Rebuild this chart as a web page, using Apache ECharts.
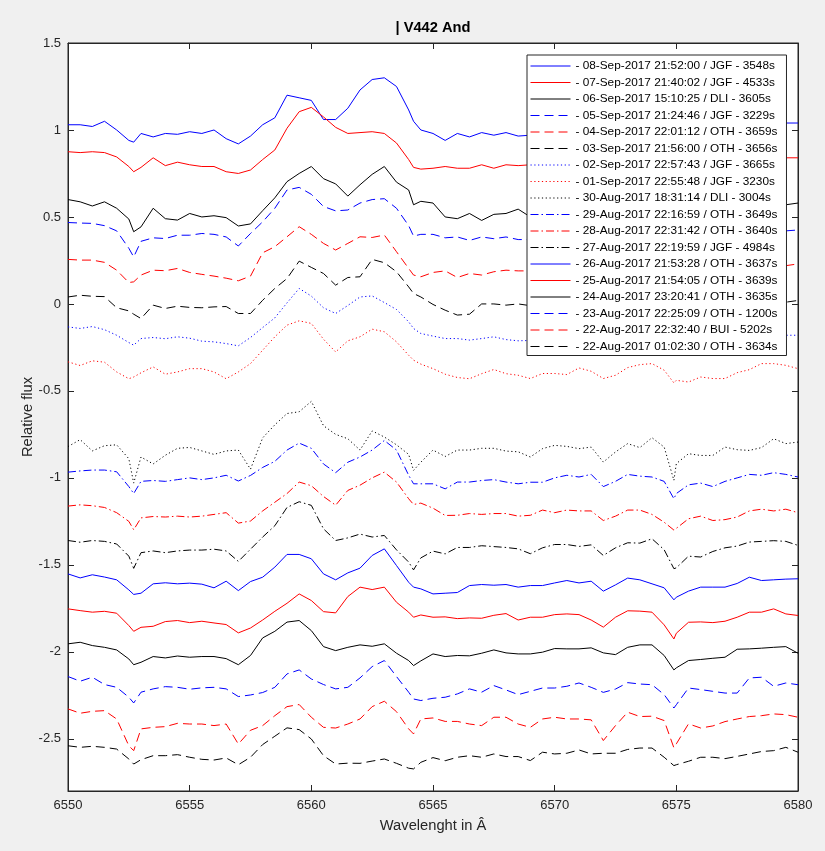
<!DOCTYPE html>
<html>
<head>
<meta charset="utf-8">
<title>V442 And</title>
<script src="https://cdn.jsdelivr.net/npm/echarts@6/dist/echarts.min.js"></script>
<style>
  html, body { margin: 0; padding: 0; background: #f0f0f0; }
  #chart { width: 825px; height: 851px; }
</style>
</head>
<body>
<div id="chart"></div>
<script>
// wavelength grid (Angstrom), shared by every spectrum
const wavelength = [6550,6550.5,6551,6551.5,6552,6552.5,6552.7,6553,6553.5,6554,6554.5,6555,6555.5,6556,6556.5,6557,6557.5,6558,6558.5,6559,
  6559.5,6560,6560.5,6561,6561.5,6562,6562.5,6563,6563.5,6564,6564.2,6564.5,6565,6565.5,6566,6566.5,6567,6567.5,6568,6568.5,
  6569,6569.5,6570,6570.5,6571,6571.5,6572,6572.5,6573,6573.5,6574,6574.5,6574.9,6575,6575.5,6576,6576.5,6577,6577.5,6578,6578.5,6579,6579.5,6580];

// relative flux (offset) per observation
const sep08 = [1.03,1.03,1.02,1.05,1.0,0.94,0.93,0.98,0.96,0.98,0.975,0.99,0.98,1.0,0.95,0.92,0.965,1.03,1.07,1.2,
  1.185,1.17,1.06,1.06,1.125,1.23,1.29,1.3,1.25,1.115,1.05,1.0,0.98,0.94,0.98,0.96,0.985,0.97,0.985,0.965,
  0.97,0.98,1.0,0.99,1.0,1.01,0.99,1.0,1.01,1.0,0.99,0.98,0.97,0.98,1.0,1.01,1.01,1.0,1.02,1.03,1.02,1.03,1.04,1.04];
const sep07 = [0.875,0.87,0.875,0.87,0.845,0.79,0.76,0.785,0.84,0.795,0.815,0.8,0.79,0.79,0.76,0.75,0.77,0.83,0.885,1.01,
  1.105,1.13,1.075,1.015,0.98,0.985,0.99,0.98,0.925,0.83,0.785,0.775,0.78,0.79,0.78,0.78,0.8,0.78,0.8,0.795,
  0.8,0.79,0.8,0.81,0.8,0.79,0.78,0.8,0.81,0.81,0.8,0.79,0.77,0.78,0.8,0.81,0.8,0.81,0.82,0.83,0.82,0.83,0.84,0.84];
const sep06 = [0.6,0.587,0.563,0.587,0.55,0.488,0.415,0.443,0.55,0.49,0.482,0.52,0.5,0.507,0.496,0.448,0.46,0.536,0.61,0.703,
  0.75,0.79,0.72,0.69,0.62,0.685,0.745,0.79,0.7,0.655,0.57,0.59,0.58,0.5,0.49,0.52,0.48,0.515,0.52,0.545,
  0.5,0.52,0.51,0.5,0.52,0.51,0.49,0.5,0.53,0.52,0.51,0.49,0.46,0.47,0.5,0.52,0.53,0.52,0.54,0.55,0.56,0.55,0.57,0.58];
const sep05 = [0.468,0.465,0.463,0.45,0.42,0.32,0.27,0.36,0.38,0.376,0.395,0.395,0.405,0.4,0.385,0.333,0.405,0.472,0.55,0.655,
  0.67,0.63,0.56,0.535,0.54,0.58,0.6,0.605,0.55,0.45,0.39,0.4,0.4,0.38,0.385,0.365,0.385,0.375,0.385,0.37,
  0.37,0.38,0.375,0.39,0.38,0.37,0.35,0.37,0.39,0.385,0.38,0.37,0.33,0.34,0.37,0.38,0.39,0.39,0.4,0.4,0.41,0.41,0.42,0.425];
const sep04 = [0.256,0.252,0.252,0.239,0.194,0.123,0.127,0.166,0.194,0.191,0.204,0.181,0.17,0.16,0.148,0.133,0.16,0.294,0.329,0.386,
  0.444,0.4,0.348,0.31,0.348,0.386,0.382,0.396,0.3,0.204,0.166,0.156,0.181,0.19,0.152,0.175,0.166,0.185,0.194,0.19,
  0.19,0.2,0.19,0.2,0.2,0.19,0.16,0.18,0.2,0.2,0.19,0.18,0.13,0.14,0.18,0.19,0.2,0.2,0.21,0.2,0.21,0.22,0.22,0.23];
const sep03 = [0.04,0.05,0.044,0.042,-0.022,-0.04,-0.059,-0.084,-0.007,-0.026,-0.013,-0.02,-0.022,-0.017,-0.015,-0.055,-0.055,0.021,0.089,0.146,
  0.246,0.21,0.175,0.108,0.152,0.156,0.256,0.237,0.185,0.098,0.06,0.04,-0.003,-0.036,-0.064,-0.059,0.0,0.0,-0.007,0.0,
  -0.01,-0.02,0.0,-0.01,0.0,-0.01,-0.05,-0.03,0.0,0.01,0.0,-0.02,-0.07,-0.06,-0.03,-0.01,0.0,-0.01,0.01,0.0,0.01,0.02,0.01,0.02];
const sep02 = [-0.132,-0.141,-0.13,-0.148,-0.18,-0.222,-0.237,-0.199,-0.193,-0.2,-0.189,-0.197,-0.214,-0.218,-0.228,-0.241,-0.193,-0.136,-0.08,0.006,
  0.089,0.045,-0.022,-0.055,-0.009,0.04,0.046,0.008,-0.032,-0.103,-0.141,-0.17,-0.185,-0.199,-0.199,-0.208,-0.199,-0.189,-0.205,-0.212,
  -0.21,-0.2,-0.2,-0.21,-0.2,-0.21,-0.23,-0.22,-0.2,-0.2,-0.2,-0.21,-0.24,-0.23,-0.21,-0.2,-0.2,-0.2,-0.19,-0.19,-0.18,-0.19,-0.18,-0.18];
const sep01 = [-0.333,-0.354,-0.327,-0.335,-0.391,-0.43,-0.42,-0.396,-0.362,-0.404,-0.391,-0.372,-0.372,-0.391,-0.43,-0.391,-0.343,-0.266,-0.189,-0.122,
  -0.097,-0.112,-0.203,-0.276,-0.212,-0.189,-0.145,-0.16,-0.218,-0.295,-0.323,-0.346,-0.372,-0.404,-0.423,-0.43,-0.401,-0.377,-0.401,-0.41,
  -0.429,-0.4,-0.4,-0.406,-0.368,-0.387,-0.429,-0.41,-0.366,-0.349,-0.343,-0.381,-0.454,-0.439,-0.449,-0.42,-0.429,-0.429,-0.395,-0.378,-0.343,-0.343,-0.353,-0.372];
const aug30 = [-0.82,-0.78,-0.845,-0.815,-0.81,-0.89,-1.03,-0.88,-0.92,-0.87,-0.83,-0.825,-0.845,-0.865,-0.845,-0.84,-0.95,-0.77,-0.695,-0.63,
  -0.62,-0.56,-0.7,-0.75,-0.775,-0.84,-0.73,-0.765,-0.81,-0.865,-0.957,-0.91,-0.84,-0.877,-0.84,-0.84,-0.83,-0.83,-0.846,-0.85,
  -0.88,-0.832,-0.813,-0.819,-0.832,-0.823,-0.909,-0.851,-0.803,-0.826,-0.769,-0.823,-1.014,-0.918,-0.861,-0.871,-0.871,-0.823,-0.838,-0.842,-0.826,-0.775,-0.803,-0.794];
const aug29 = [-0.967,-0.96,-0.955,-0.955,-0.965,-1.05,-1.09,-1.02,-1.015,-1.02,-1.01,-1.0,-1.01,-1.0,-0.985,-1.018,-0.986,-0.94,-0.905,-0.84,
  -0.8,-0.83,-0.92,-0.97,-0.91,-0.88,-0.84,-0.785,-0.84,-0.985,-1.034,-1.034,-1.034,-1.063,-1.024,-1.024,-1.015,-1.01,-1.024,-1.034,
  -1.025,-1.025,-1.0,-0.985,-0.995,-0.98,-1.05,-1.02,-0.98,-0.99,-0.995,-1.02,-1.12,-1.09,-1.04,-1.03,-1.05,-1.02,-1.0,-0.98,-0.985,-0.97,-0.98,-0.995];
const aug28 = [-1.162,-1.155,-1.16,-1.17,-1.2,-1.25,-1.298,-1.23,-1.222,-1.225,-1.22,-1.225,-1.22,-1.21,-1.2,-1.26,-1.248,-1.19,-1.14,-1.09,
  -1.024,-1.045,-1.107,-1.157,-1.072,-1.042,-1.0,-0.967,-1.024,-1.12,-1.153,-1.145,-1.174,-1.216,-1.215,-1.205,-1.21,-1.205,-1.205,-1.22,
  -1.215,-1.185,-1.2,-1.185,-1.19,-1.19,-1.245,-1.22,-1.185,-1.185,-1.21,-1.255,-1.3,-1.29,-1.235,-1.22,-1.245,-1.24,-1.225,-1.19,-1.18,-1.19,-1.18,-1.2];
const aug27 = [-1.36,-1.37,-1.36,-1.365,-1.38,-1.45,-1.52,-1.43,-1.42,-1.43,-1.42,-1.415,-1.415,-1.41,-1.42,-1.48,-1.41,-1.34,-1.275,-1.17,
  -1.137,-1.158,-1.293,-1.36,-1.345,-1.323,-1.34,-1.331,-1.414,-1.484,-1.529,-1.46,-1.421,-1.437,-1.4,-1.4,-1.39,-1.395,-1.4,-1.408,
  -1.436,-1.402,-1.383,-1.383,-1.394,-1.385,-1.446,-1.402,-1.373,-1.375,-1.35,-1.413,-1.522,-1.517,-1.45,-1.455,-1.423,-1.402,-1.392,-1.369,-1.365,-1.361,-1.365,-1.388];
const aug26 = [-1.552,-1.575,-1.557,-1.57,-1.586,-1.644,-1.67,-1.663,-1.609,-1.603,-1.609,-1.605,-1.611,-1.632,-1.594,-1.648,-1.596,-1.571,-1.513,-1.44,
  -1.44,-1.465,-1.552,-1.586,-1.546,-1.519,-1.446,-1.408,-1.504,-1.6,-1.628,-1.638,-1.667,-1.663,-1.659,-1.619,-1.613,-1.617,-1.613,-1.628,
  -1.619,-1.619,-1.604,-1.59,-1.604,-1.594,-1.651,-1.615,-1.576,-1.586,-1.609,-1.632,-1.701,-1.686,-1.651,-1.628,-1.628,-1.628,-1.607,-1.571,-1.59,-1.586,-1.582,-1.58];
const aug25 = [-1.753,-1.763,-1.772,-1.767,-1.778,-1.849,-1.882,-1.859,-1.853,-1.826,-1.82,-1.832,-1.824,-1.834,-1.843,-1.891,-1.863,-1.817,-1.767,-1.721,
  -1.667,-1.705,-1.769,-1.776,-1.682,-1.628,-1.642,-1.628,-1.715,-1.772,-1.801,-1.788,-1.801,-1.799,-1.809,-1.805,-1.807,-1.79,-1.78,-1.817,
  -1.801,-1.801,-1.786,-1.782,-1.786,-1.817,-1.858,-1.801,-1.764,-1.766,-1.772,-1.845,-1.926,-1.893,-1.83,-1.828,-1.832,-1.824,-1.801,-1.772,-1.772,-1.753,-1.782,-1.791];
const aug24 = [-1.954,-1.945,-1.964,-1.974,-1.989,-2.041,-2.074,-2.06,-2.027,-2.035,-2.024,-2.031,-2.027,-2.027,-2.039,-2.074,-2.021,-1.92,-1.882,-1.829,
  -1.82,-1.878,-1.97,-1.993,-1.974,-1.96,-1.968,-1.954,-2.008,-2.05,-2.079,-2.052,-2.012,-2.027,-2.021,-2.023,-2.008,-1.989,-2.006,-2.012,
  -2.012,-2.002,-1.981,-1.983,-1.983,-1.977,-2.006,-2.016,-1.974,-1.96,-1.96,-2.021,-2.104,-2.092,-2.05,-2.044,-2.037,-2.031,-1.985,-1.983,-1.979,-1.974,-1.97,-2.008];
const aug23 = [-2.142,-2.169,-2.146,-2.188,-2.204,-2.261,-2.294,-2.232,-2.213,-2.2,-2.204,-2.215,-2.207,-2.204,-2.213,-2.257,-2.248,-2.234,-2.204,-2.127,
  -2.104,-2.156,-2.188,-2.213,-2.204,-2.15,-2.085,-2.05,-2.142,-2.232,-2.271,-2.28,-2.267,-2.261,-2.242,-2.213,-2.232,-2.194,-2.219,-2.246,
  -2.227,-2.208,-2.208,-2.198,-2.179,-2.204,-2.233,-2.214,-2.177,-2.185,-2.189,-2.246,-2.323,-2.304,-2.208,-2.217,-2.227,-2.237,-2.237,-2.15,-2.146,-2.198,-2.179,-2.189];
const aug22bui = [-2.328,-2.353,-2.342,-2.338,-2.386,-2.54,-2.568,-2.443,-2.434,-2.43,-2.411,-2.415,-2.415,-2.424,-2.415,-2.53,-2.451,-2.424,-2.367,-2.315,
  -2.303,-2.376,-2.434,-2.438,-2.415,-2.386,-2.315,-2.284,-2.344,-2.443,-2.472,-2.386,-2.38,-2.4,-2.4,-2.415,-2.424,-2.376,-2.376,-2.415,
  -2.434,-2.386,-2.376,-2.386,-2.386,-2.391,-2.51,-2.424,-2.347,-2.372,-2.37,-2.395,-2.552,-2.529,-2.414,-2.438,-2.426,-2.401,-2.386,-2.372,-2.367,-2.357,-2.361,-2.376];
const aug22oth = [-2.54,-2.549,-2.543,-2.549,-2.559,-2.616,-2.645,-2.62,-2.597,-2.597,-2.591,-2.606,-2.618,-2.622,-2.61,-2.649,-2.606,-2.533,-2.485,-2.437,
  -2.447,-2.501,-2.597,-2.645,-2.64,-2.641,-2.628,-2.616,-2.641,-2.669,-2.673,-2.635,-2.608,-2.626,-2.606,-2.597,-2.606,-2.587,-2.602,-2.602,
  -2.625,-2.577,-2.587,-2.583,-2.564,-2.587,-2.583,-2.583,-2.561,-2.553,-2.553,-2.606,-2.654,-2.649,-2.629,-2.606,-2.606,-2.614,-2.601,-2.587,-2.573,-2.568,-2.549,-2.577];

const labels = [
  '- 08-Sep-2017 21:52:00 / JGF - 3548s',
  '- 07-Sep-2017 21:40:02 / JGF - 4533s',
  '- 06-Sep-2017 15:10:25 / DLI - 3605s',
  '- 05-Sep-2017 21:24:46 / JGF - 3229s',
  '- 04-Sep-2017 22:01:12 / OTH - 3659s',
  '- 03-Sep-2017 21:56:00 / OTH - 3656s',
  '- 02-Sep-2017 22:57:43 / JGF - 3665s',
  '- 01-Sep-2017 22:55:48 / JGF - 3230s',
  '- 30-Aug-2017 18:31:14 / DLI - 3004s',
  '- 29-Aug-2017 22:16:59 / OTH - 3649s',
  '- 28-Aug-2017 22:31:42 / OTH - 3640s',
  '- 27-Aug-2017 22:19:59 / JGF - 4984s',
  '- 26-Aug-2017 21:53:28 / OTH - 3637s',
  '- 25-Aug-2017 21:54:05 / OTH - 3639s',
  '- 24-Aug-2017 23:20:41 / OTH - 3635s',
  '- 23-Aug-2017 22:25:09 / OTH - 1200s',
  '- 22-Aug-2017 22:32:40 / BUI - 5202s',
  '- 22-Aug-2017 01:02:30 / OTH - 3634s'
];
const spectra = [sep08, sep07, sep06, sep05, sep04, sep03, sep02, sep01, aug30,
  aug29, aug28, aug27, aug26, aug25, aug24, aug23, aug22bui, aug22oth];

const xTicks = [6550, 6555, 6560, 6565, 6570, 6575, 6580];
const yTicks = [-2.5, -2, -1.5, -1, -0.5, 0, 0.5, 1, 1.5];

// styles (matlab-like: b, r, k cycling; -, --, :, -.)
const FONT = '"Liberation Sans", Arial, Helvetica, sans-serif';
const AXIS = '#262626';
const lineColors = ['#0000ff', '#ff0000', '#000000'];
const dashes = { solid: 'solid', dashed: [9, 5], dotted: [1.2, 2.6], dashdot: [8, 3, 1.5, 3] };
const styleOrder = ['solid', 'solid', 'solid', 'dashed', 'dashed', 'dashed', 'dotted', 'dotted', 'dotted',
  'dashdot', 'dashdot', 'dashdot', 'solid', 'solid', 'solid', 'dashed', 'dashed', 'dashed'];

const lineStyleOf = i => ({ color: lineColors[i % 3], width: 1, type: dashes[styleOrder[i]] });

const chart = echarts.init(document.getElementById('chart'));

const series = spectra.map((vals, i) => ({
  name: labels[i],
  type: 'line',
  data: wavelength.map((w, k) => [w, vals[k]]),
  symbol: 'none',
  showSymbol: false,
  silent: true,
  animation: false,
  emphasis: { disabled: true },
  lineStyle: lineStyleOf(i),
  itemStyle: { color: lineColors[i % 3] }
}));

const baseX = {
  type: 'value', min: 6550, max: 6580, interval: 5,
  axisLine: { show: true, onZero: false, lineStyle: { color: AXIS, width: 1 } },
  axisTick: { show: true, inside: true, length: 6, lineStyle: { color: AXIS } },
  splitLine: { show: false }
};
const baseY = {
  type: 'value', min: -2.8, max: 1.5,
  axisLine: { show: true, onZero: false, lineStyle: { color: AXIS, width: 1 } },
  axisTick: { show: true, inside: true, length: 6, customValues: yTicks, lineStyle: { color: AXIS } },
  splitLine: { show: false }
};

chart.setOption({
  backgroundColor: '#f0f0f0',
  animation: false,
  textStyle: { fontFamily: FONT },
  grid: {
    left: 68, right: 27, top: 43, bottom: 60,
    show: true, backgroundColor: '#ffffff', borderColor: AXIS, borderWidth: 1,
    outerBoundsMode: 'none'
  },
  graphic: [{
    type: 'text', x: 433, y: 28,
    style: {
      text: '| V442 And', fill: '#000',
      fontSize: 14.7, fontWeight: 'bold', fontFamily: FONT,
      align: 'center', verticalAlign: 'middle'
    }
  }],
  legend: {
    orient: 'vertical', left: 527, top: 55,
    backgroundColor: '#ffffff', borderColor: AXIS, borderWidth: 1, borderRadius: 0,
    padding: [4, 9, 2, 3],
    itemWidth: 40, itemHeight: 14, itemGap: 2.5,
    itemStyle: { opacity: 0 },
    lineStyle: { width: 1, color: 'inherit', type: 'inherit' },
    selectedMode: false, z: 10,
    textStyle: { fontSize: 11.8, fontFamily: FONT, color: '#000', lineHeight: 14 },
    data: labels.map((name, i) => ({ name: name, lineStyle: lineStyleOf(i), itemStyle: { opacity: 0 } }))
  },
  xAxis: [
    Object.assign({}, baseX, {
      position: 'bottom',
      axisLabel: { customValues: xTicks, color: AXIS, fontSize: 13, fontFamily: FONT, margin: 8, formatter: v => String(v) },
      name: 'Wavelenght in Â', nameLocation: 'middle', nameGap: 27, nameMoveOverlap: false,
      nameTextStyle: { color: AXIS, fontSize: 14.7, fontFamily: FONT }
    }),
    Object.assign({}, baseX, { position: 'top', axisLabel: { show: false } })
  ],
  yAxis: [
    Object.assign({}, baseY, {
      position: 'left',
      axisLabel: { customValues: yTicks, color: AXIS, fontSize: 13, fontFamily: FONT, margin: 7, formatter: v => String(v) },
      name: 'Relative flux', nameLocation: 'middle', nameGap: 33, nameRotate: 90, nameMoveOverlap: false,
      nameTextStyle: { color: AXIS, fontSize: 14.7, fontFamily: FONT }
    }),
    Object.assign({}, baseY, { position: 'right', axisLabel: { show: false } })
  ],
  series: series
});
</script>
</body>
</html>
